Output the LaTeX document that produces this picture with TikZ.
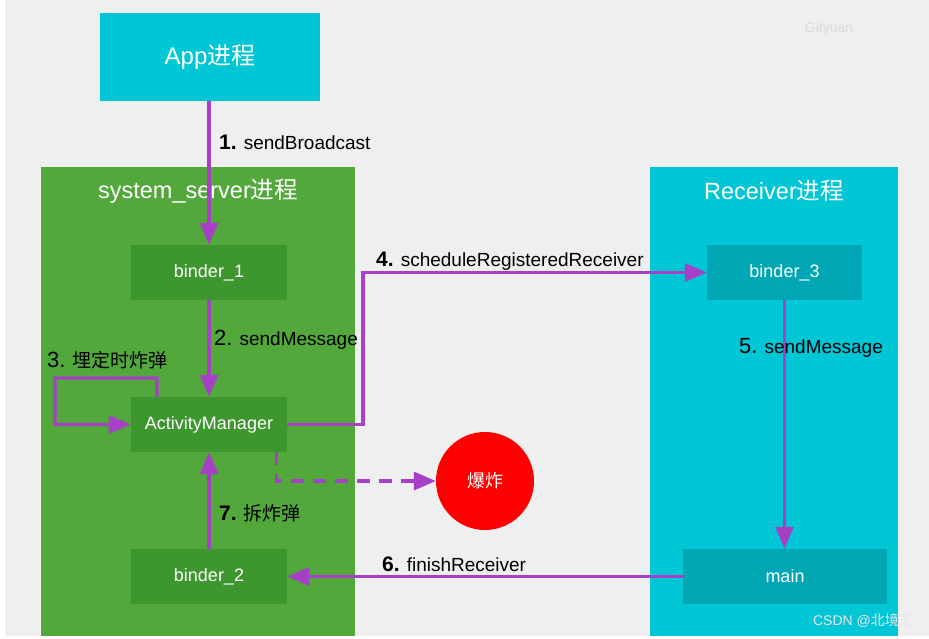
\documentclass[tikz,border=0pt]{standalone}
\usepackage{fontspec}
\setmainfont{Liberation Sans}
\newfontfamily\cjk{Noto Sans CJK SC}
\usetikzlibrary{arrows.meta}
\definecolor{bgc}{HTML}{EFEFEF}
\definecolor{cyanc}{HTML}{00C6D6}
\definecolor{cyand}{HTML}{00A6B4}
\definecolor{greenc}{HTML}{52A83A}
\definecolor{greend}{HTML}{3D962E}
\definecolor{purp}{HTML}{A640C6}
\definecolor{redc}{HTML}{FF0000}
\newcommand{\fs}[1]{\fontsize{#1}{#1}\selectfont}
\tikzset{
  region/.style={draw=none, anchor=north west, inner sep=0pt},
  inbox/.style={draw=none, inner sep=0pt, text=white, font=\fs{18}},
  title/.style={text=white, font=\fs{23.5}, inner sep=0pt},
  arr/.style={draw=purp, line width=3.4pt, -{Triangle[length=22pt,width=18pt]}},
  lbl/.style={anchor=west, inner sep=0pt, text=black, font=\fs{19}},
}
\begin{document}
\begin{tikzpicture}[x=1pt,y=-1pt]
\useasboundingbox (0,0) rectangle (929,639);
\fill[white] (0,0) rectangle (929,639);
\fill[bgc] (5,0) rectangle (929,636);
% regions
\node[draw=none, fill=cyanc, inner sep=0pt, minimum width=220pt, minimum height=88pt] (appbox) at (210,57) {};
\node[title, font=\fs{24}] (apptitle) at (210,57) {App{\cjk 进程}};
\node[region, fill=greenc, minimum width=314pt, minimum height=469pt] (ss) at (41,167) {};
\node[region, fill=cyanc, minimum width=248pt, minimum height=469pt] (rc) at (650,167) {};
\node[title] (sstitle) at (198,191) {system\_server{\cjk 进程}};
\node[title] (rctitle) at (774,191) {Receiver{\cjk 进程}};
% inner boxes
\node[inbox, fill=greend, minimum width=156pt, minimum height=55pt] (b1) at (209,272.5) {binder\_1};
\node[inbox, fill=greend, minimum width=156pt, minimum height=55pt] (am) at (209,424.5) {ActivityManager};
\node[inbox, fill=greend, minimum width=156pt, minimum height=55pt] (b2) at (209,576.5) {binder\_2};
\node[inbox, fill=cyand, minimum width=155pt, minimum height=55pt] (b3) at (784.5,272.5) {binder\_3};
\node[inbox, fill=cyand, minimum width=204pt, minimum height=55pt] (main) at (785,576.5) {main};
\node[circle, fill=redc, minimum size=98pt, inner sep=0pt, text=white, font=\cjk\fs{18}] (boom) at (485,481) {爆炸};
% connectors
\draw[arr] (b1.north |- appbox.south) -- (b1.north);
\draw[arr] (b1.south) -- (am.north);
\coordinate (l3a) at (157,378);
\coordinate (l3b) at (55,378);
\draw[arr] ([xshift=26pt]am.north west) -- (l3a) -- (l3b) |- (am.west);
\coordinate (c4) at (363,424.5);
\draw[arr] (am.east) -- (c4) |- (b3.west);
\draw[arr] (b3.south) -- (b3.south |- main.north);
\draw[arr] (main.west) -- (b2.east);
\draw[arr] (b2.north) -- (am.south);
\draw[arr, dash pattern=on 13pt off 9pt] ([xshift=-11pt]am.south east) |- (boom.west);
% labels
\node[lbl] (t1) at (219,142) {{\fs{21}\bfseries 1.} sendBroadcast};
\node[lbl] (t2) at (214,340) {{\fs{22}2.} sendMessage};
\node[lbl] (t3) at (47,360) {{\fs{22}3.} {\cjk 埋定时炸弹}};
\node[lbl] (t4) at (376,261) {{\fs{21}\bfseries 4.} scheduleRegisteredReceiver};
\node[lbl] (t5) at (739,348) {{\fs{22}5.} sendMessage};
\node[lbl] (t6) at (382,564) {{\fs{21}\bfseries 6.} finishReceiver};
\node[lbl] (t7) at (219,513) {{\fs{21}\bfseries 7.} {\cjk 拆炸弹}};
% watermarks
\node[inner sep=0pt, text={rgb,255:red,218;green,218;blue,218}, font=\fs{14}] (wm1) at (829,29) {Gityuan};
\node[inner sep=0pt, text={rgb,255:red,232;green,232;blue,232}, font=\fs{14}] (wm2) at (863,621) {CSDN @{\cjk 北境王}};
\end{tikzpicture}
\end{document}
